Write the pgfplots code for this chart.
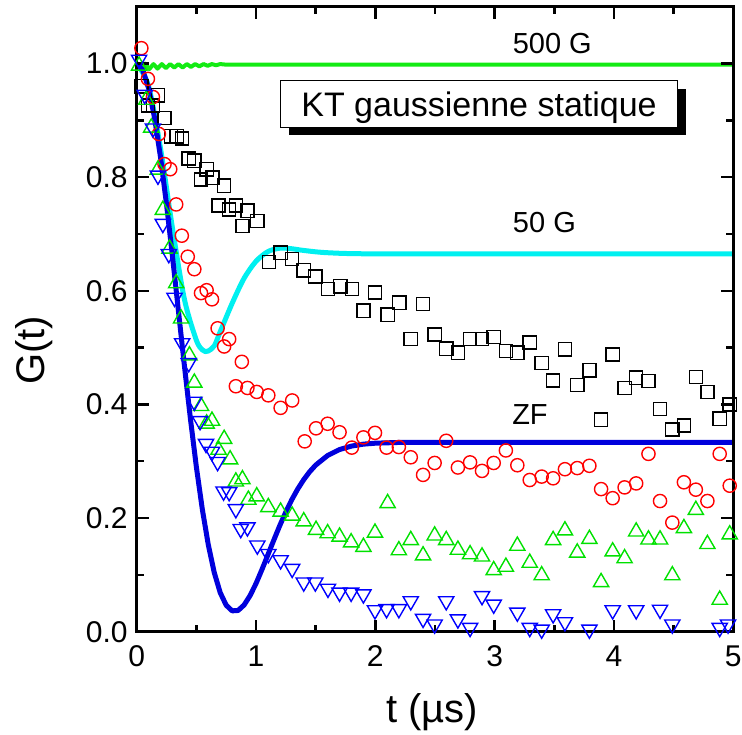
\documentclass[border=0pt]{standalone}
\usepackage{fontspec}
\setmainfont{Liberation Sans}
\usepackage{pgfplots}
\pgfplotsset{compat=1.18}
\usetikzlibrary{shadows}
\definecolor{lgreen}{RGB}{20,235,20}
\definecolor{lcyan}{RGB}{0,240,240}
\definecolor{lblue}{RGB}{0,0,220}
\definecolor{mgreen}{RGB}{0,225,0}
\definecolor{mblue}{RGB}{0,0,255}
\definecolor{mred}{RGB}{255,0,0}

\pgfplotstableread{
x y
0.040 0.960
0.094 0.926
0.135 0.926
0.178 0.944
0.233 0.904
0.289 0.872
0.336 0.872
0.381 0.868
0.436 0.833
0.483 0.829
0.539 0.796
0.586 0.814
0.636 0.799
0.686 0.750
0.733 0.785
0.775 0.743
0.831 0.750
0.886 0.714
0.928 0.741
1.011 0.723
1.108 0.651
1.206 0.667
1.303 0.656
1.400 0.636
1.497 0.625
1.603 0.603
1.706 0.608
1.803 0.603
1.900 0.565
1.997 0.597
2.103 0.558
2.200 0.579
2.297 0.515
2.400 0.577
2.497 0.523
2.594 0.498
2.692 0.491
2.794 0.515
2.894 0.515
2.992 0.519
3.094 0.494
3.190 0.491
3.294 0.509
3.394 0.473
3.490 0.442
3.589 0.497
3.692 0.434
3.794 0.460
3.892 0.373
3.989 0.488
4.089 0.429
4.186 0.447
4.289 0.441
4.386 0.392
4.489 0.356
4.586 0.363
4.686 0.448
4.783 0.422
4.886 0.375
4.970 0.400
}\squares

\pgfplotstableread{
x y
0.039 1.027
0.094 0.973
0.136 0.941
0.186 0.876
0.233 0.823
0.281 0.814
0.331 0.752
0.378 0.697
0.428 0.660
0.483 0.638
0.539 0.596
0.586 0.601
0.631 0.585
0.678 0.534
0.733 0.502
0.775 0.515
0.831 0.432
0.881 0.475
0.928 0.429
1.006 0.422
1.103 0.416
1.206 0.394
1.303 0.407
1.408 0.335
1.503 0.358
1.600 0.366
1.700 0.351
1.803 0.324
1.900 0.342
1.997 0.350
2.094 0.324
2.197 0.325
2.297 0.307
2.400 0.276
2.497 0.297
2.594 0.336
2.692 0.289
2.794 0.298
2.894 0.283
2.992 0.297
3.094 0.319
3.190 0.293
3.294 0.267
3.394 0.273
3.490 0.270
3.589 0.286
3.692 0.288
3.794 0.292
3.892 0.251
3.989 0.235
4.089 0.254
4.186 0.261
4.289 0.313
4.386 0.230
4.489 0.192
4.586 0.263
4.686 0.250
4.783 0.230
4.886 0.313
4.970 0.257
}\circles

\pgfplotstableread{
x y
0.020 1.000
0.080 0.940
0.122 0.891
0.178 0.817
0.219 0.746
0.275 0.678
0.331 0.617
0.372 0.555
0.442 0.490
0.483 0.442
0.539 0.401
0.586 0.370
0.631 0.375
0.686 0.324
0.733 0.343
0.783 0.307
0.831 0.268
0.886 0.272
0.936 0.236
1.006 0.242
1.103 0.223
1.206 0.215
1.303 0.208
1.400 0.198
1.503 0.183
1.600 0.177
1.700 0.171
1.797 0.161
1.900 0.153
1.997 0.178
2.103 0.230
2.197 0.147
2.297 0.165
2.400 0.138
2.497 0.173
2.594 0.165
2.692 0.148
2.794 0.140
2.894 0.136
2.992 0.112
3.094 0.118
3.190 0.155
3.294 0.125
3.394 0.103
3.490 0.165
3.589 0.182
3.692 0.143
3.794 0.167
3.892 0.091
3.989 0.145
4.089 0.133
4.186 0.180
4.289 0.166
4.386 0.166
4.489 0.103
4.586 0.186
4.686 0.218
4.783 0.158
4.886 0.060
4.970 0.175
}\tup

\pgfplotstableread{
x y
0.020 1.003
0.067 0.941
0.136 0.882
0.178 0.799
0.219 0.714
0.269 0.661
0.317 0.584
0.381 0.504
0.436 0.469
0.483 0.401
0.531 0.367
0.581 0.327
0.631 0.313
0.678 0.295
0.728 0.243
0.775 0.242
0.831 0.212
0.872 0.177
0.928 0.180
1.011 0.148
1.103 0.133
1.206 0.122
1.303 0.107
1.400 0.083
1.497 0.083
1.603 0.072
1.700 0.065
1.797 0.065
1.900 0.062
1.997 0.034
2.094 0.036
2.197 0.036
2.297 0.050
2.400 0.019
2.497 0.009
2.594 0.050
2.692 0.018
2.794 0.003
2.894 0.059
2.992 0.044
3.190 0.030
3.294 0.003
3.394 0.000
3.490 0.027
3.589 0.013
3.794 0.000
3.989 0.034
4.186 0.034
4.289 -0.003
4.386 0.035
4.489 0.009
4.586 -0.005
4.686 -0.005
4.886 0.003
4.956 0.009
}\tdown

\pgfplotstableread{
x y
0 1.0
0.05 0.9889
0.1 0.9563
0.15 0.9039
0.2 0.8346
0.25 0.7520
0.3 0.6603
0.35 0.5641
0.4 0.4677
0.45 0.3752
0.5 0.2901
0.55 0.2154
0.6 0.1530
0.65 0.1040
0.7 0.0687
0.75 0.0466
0.8 0.0367
0.85 0.0374
0.9 0.0470
0.95 0.0635
1.0 0.0848
1.05 0.1095
1.1 0.1356
1.15 0.1617
1.2 0.1872
1.25 0.2108
1.3 0.2324
1.35 0.2513
1.4 0.2677
1.45 0.2816
1.5 0.2932
1.6 0.3101
1.7 0.3206
1.8 0.3267
1.9 0.3301
2.0 0.3318
2.2 0.3331
2.5 0.3333
5.0 0.3333
}\zf

\pgfplotstableread{
x y
0 1.0
0.1 0.96
0.2 0.85
0.3 0.71
0.4 0.585
0.5 0.513
0.55 0.496
0.575 0.493
0.6 0.494
0.65 0.503
0.7 0.528
0.8 0.578
0.9 0.622
1.0 0.652
1.1 0.669
1.2 0.675
1.3 0.674
1.4 0.671
1.6 0.667
2.0 0.665
3.5 0.665
5.0 0.665
}\lfa

\pgfplotstableread{
x y
0 1.0
0.035 0.988
0.07 1.000
0.105 0.990
0.14 0.999
0.175 0.991
0.21 0.999
0.245 0.992
0.28 0.999
0.315 0.993
0.35 0.999
0.385 0.993
0.42 0.999
0.455 0.994
0.49 0.999
0.525 0.995
0.56 0.999
0.595 0.996
0.63 0.999
0.665 0.997
0.70 0.999
0.75 0.998
1.0 0.998
5.0 0.998
}\lfb

\begin{document}
\begin{tikzpicture}
\begin{axis}[name=ax, scale only axis, width=298.3pt, height=312.5pt,
  xmin=0, xmax=5, ymin=0, ymax=1.1,
  xtick={0,1,2,3,4,5}, xticklabels={0,1,2,3,4,5},
  ytick={0,0.2,0.4,0.6,0.8,1.0}, yticklabels={0.0,0.2,0.4,0.6,0.8,1.0},
  minor xtick={0.5,1.5,2.5,3.5,4.5}, minor ytick={0.1,0.3,0.5,0.7,0.9},
  tick align=inside, major tick length=6pt, minor tick length=3.5pt,
  every tick/.style={black, line width=1.2pt},
  axis line style={line width=1.5pt},
  axis on top,
  /pgf/number format/assume math mode=true,
  tick label style={font=\fontsize{15}{18}\selectfont},
  xticklabel style={yshift=-3.5pt},
  yticklabel style={xshift=-1pt},
  xlabel={t (µs)}, ylabel={G(t)},
  label style={font=\fontsize{20}{24}\selectfont},
  xlabel style={at={(axis description cs:0.495,0)}, anchor=base, yshift=-45.5pt},
  ylabel style={at={(axis description cs:-0.172,0.45)}, anchor=center},
]
\addplot[only marks, mark=square, mark size=3.3pt, draw=black, mark options={line width=0.7pt}] table[x=x,y=y] {\squares};
\addplot[only marks, mark=o, mark size=3.3pt, draw=mred, mark options={line width=0.7pt}] table[x=x,y=y] {\circles};
\addplot[only marks, mark=triangle, mark size=4.4pt, draw=mgreen, mark options={line width=0.7pt, yshift=-1.1pt}] table[x=x,y=y] {\tup};
\addplot[only marks, mark=triangle, mark size=4.4pt, draw=mblue, mark options={line width=0.7pt, yshift=1.1pt, rotate=180}] table[x=x,y=y] {\tdown};
\addplot[lgreen, line width=2pt, no markers, line join=round] table[x=x,y=y] {\lfb};
\addplot[lcyan, line width=2.5pt, no markers, smooth, line join=round] table[x=x,y=y] {\lfa};
\addplot[lblue, line width=2.5pt, no markers, line join=round] table[x=x,y=y] {\zf};
\node[font=\fontsize{14.5}{17}\selectfont, text depth=0pt, inner sep=0pt] at (axis cs:3.483,1.035) {500 G};
\node[font=\fontsize{14.5}{17}\selectfont, text depth=0pt, inner sep=0pt] at (axis cs:3.417,0.720) {50 G};
\node[font=\fontsize{14.5}{17}\selectfont, text depth=0pt, inner sep=0pt] at (axis cs:3.296,0.383) {ZF};
\node[draw, line width=0.6pt, fill=white, minimum width=198.5pt, minimum height=23.3pt, inner sep=0pt, text depth=0pt, font=\fontsize{17}{20}\selectfont, drop shadow={fill=black, opacity=1, shadow xshift=4pt, shadow yshift=-4pt}] at (axis cs:2.869,0.929) {KT gaussienne statique};
\end{axis}
\pgfresetboundingbox
\path[use as bounding box] ([shift={(-68.35pt,-51.15pt)}]ax.south west) rectangle ([shift={(302.65pt,315.85pt)}]ax.south west);
\end{tikzpicture}
\end{document}
